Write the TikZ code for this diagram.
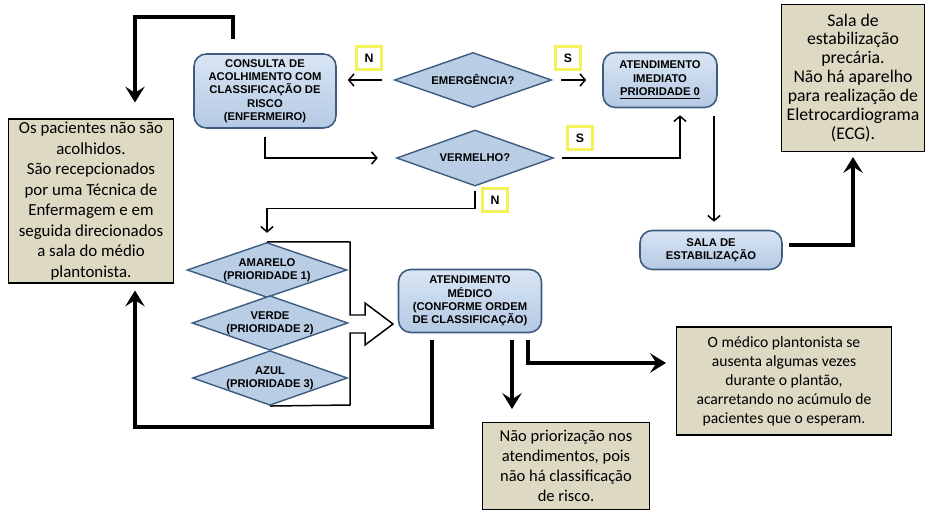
\documentclass[tikz,border=0pt]{standalone}
\usepackage{fontspec}
\setmainfont{Carlito}
\newfontfamily\lblfont{Liberation Sans}
\usetikzlibrary{shapes.geometric,arrows.meta}
\definecolor{beige}{HTML}{DDD9C3}
\definecolor{boxline}{HTML}{3E5C80}
\definecolor{boxtop}{HTML}{D9E5F4}
\definecolor{boxbot}{HTML}{B4C9E3}
\definecolor{diafill}{HTML}{B9CDE5}
\definecolor{ybox}{HTML}{F2F25A}

\begin{document}
\begin{tikzpicture}[x=0.02cm, y=-0.02cm,
    flow/.style={draw=boxline, line width=0.9pt, rounded corners=7pt, top color=boxtop, bottom color=boxbot,
        align=center, font=\lblfont\bfseries\fontsize{6.4}{7.6}\selectfont, inner sep=1pt},
    decision/.style={diamond, draw=boxline, line width=0.8pt, fill=diafill, inner sep=0pt, aspect=2.8,
        align=center, font=\lblfont\bfseries\fontsize{6.4}{7.6}\selectfont},
    note/.style={draw=black, line width=0.6pt, fill=beige, align=center, inner sep=1pt},
    answer/.style={draw=ybox, line width=1.3pt, fill=white, minimum width=0.5cm, minimum height=0.46cm,
        inner sep=0pt, font=\lblfont\bfseries\fontsize{7}{8}\selectfont},
    thinarr/.style={line width=0.85pt, -{Straight Barb[length=3pt,width=7pt]}},
    thickarr/.style={line width=2.3pt, -{Stealth[length=9pt,width=11pt,inset=3.5pt]}}]
    \useasboundingbox (0,0) rectangle (933,513);

    \node[flow, minimum width=2.84cm, minimum height=1.48cm] (consulta) at (265,91)
        {CONSULTA DE\\ACOLHIMENTO COM\\CLASSIFICAÇÃO DE\\RISCO\\(ENFERMEIRO)};
    \node[decision, minimum width=3.14cm, minimum height=1.1cm] (emerg) at (473,80) {EMERGÊNCIA?};
    \node[decision, minimum width=3.14cm, minimum height=1.12cm] (verm) at (475,158) {VERMELHO?};
    \node[flow, minimum width=2.28cm, minimum height=1.1cm] (atimed) at (660,80)
        {ATENDIMENTO\\IMEDIATO\\\underline{PRIORIDADE 0}};
    \node[flow, minimum width=2.84cm, minimum height=0.78cm] (sala) at (711,250) {SALA DE\\ESTABILIZAÇÃO};

    \node[decision, minimum width=3.2cm, minimum height=1.1cm] (amar) at (267,270) {AMARELO\\(PRIORIDADE 1)};
    \node[decision, minimum width=3.12cm, minimum height=1.06cm] (verde) at (270,323) {VERDE\\(PRIORIDADE 2)};
    \node[decision, minimum width=3.1cm, minimum height=1.06cm] (azul) at (270,378) {AZUL\\(PRIORIDADE 3)};
    \node[flow, minimum width=2.86cm, minimum height=1.26cm] (medico) at (470,301)
        {ATENDIMENTO\\MÉDICO\\(CONFORME ORDEM\\DE CLASSIFICAÇÃO)};

    \node[answer] (n1) at (369,58) {N};
    \node[answer] (s1) at (568,58) {S};
    \node[answer] (s2) at (580,138) {S};
    \node[answer] (n2) at (495,200) {N};

    \node[note, minimum width=3.3cm, minimum height=3.28cm, font=\fontsize{9.6}{11.7}\selectfont] (esquerda) at (91,201)
        {Os pacientes não são\\acolhidos.\\São recepcionados\\por uma Técnica de\\Enfermagem e em\\seguida direcionados\\a sala do médio\\plantonista.};
    \node[note, minimum width=2.86cm, minimum height=2.94cm, font=\fontsize{10.1}{10.8}\selectfont] (ecg) at (853,78)
        {Sala de\\estabilização\\precária.\\Não há aparelho\\para realização de\\Eletrocardiograma\\(ECG).};
    \node[note, minimum width=3.34cm, minimum height=1.74cm, font=\fontsize{9.4}{11.3}\selectfont] (prior) at (566,466)
        {Não priorização nos\\atendimentos, pois\\não há classificação\\de risco.};
    \node[note, minimum width=4.3cm, minimum height=2.16cm, font=\fontsize{8.9}{10.8}\selectfont] (ausente) at (784,381)
        {O médico plantonista se\\ausenta algumas vezes\\durante o plantão,\\acarretando no acúmulo de\\pacientes que o esperam.};

    \draw[thinarr, shorten <=0.24cm, shorten >=0.22cm] (emerg.west) -- (emerg.west -| consulta.east);
    \draw[thinarr, shorten <=0.18cm, shorten >=0.32cm] (emerg.east) -- (atimed.west);
    \draw[thinarr, shorten <=0.16cm, shorten >=0.36cm] (consulta.south) |- (verm.west);
    \draw[thinarr, shorten <=0.16cm, shorten >=0.14cm] (verm.east) -| ([xshift=0.4cm]atimed.south);
    \draw[thinarr, shorten <=0.08cm, shorten >=0.18cm] (verm.south) -- ++(0,22) -| (amar.north);
    \draw[thinarr, shorten <=0.16cm, shorten >=0.16cm] ([xshift=1.08cm]atimed.south) -- ([xshift=1.08cm]atimed.south |- sala.north);

    \draw[line width=0.85pt, line join=miter] (amar.north) -- (350,242) -- (350,315) -- (365,315)
        -- (365,303) -- (393,324) -- (365,345) -- (365,333) -- (350,333) -- (350,405) -- (azul.south);

    \draw[thickarr] ([xshift=-0.64cm,yshift=0.28cm]consulta.north) -- ++(0,-22) -| ([xshift=0.88cm,yshift=0.32cm]esquerda.north);
    \draw[thickarr] ([xshift=-0.76cm,yshift=-0.14cm]medico.south) -- ++(0,87) -| ([xshift=0.88cm,yshift=-0.14cm]esquerda.south);
    \draw[thickarr] ([yshift=0.1cm,xshift=0.12cm]sala.east) -| ([yshift=-0.1cm]ecg.south);
    \draw[thickarr] ([xshift=0.84cm,yshift=-0.14cm]medico.south) -- ([xshift=0.84cm,yshift=0.26cm]medico.south |- prior.north);
    \draw[thickarr] ([xshift=1.16cm,yshift=-0.14cm]medico.south) |- ([xshift=-0.2cm,yshift=0.36cm]ausente.west);
\end{tikzpicture}
\end{document}
